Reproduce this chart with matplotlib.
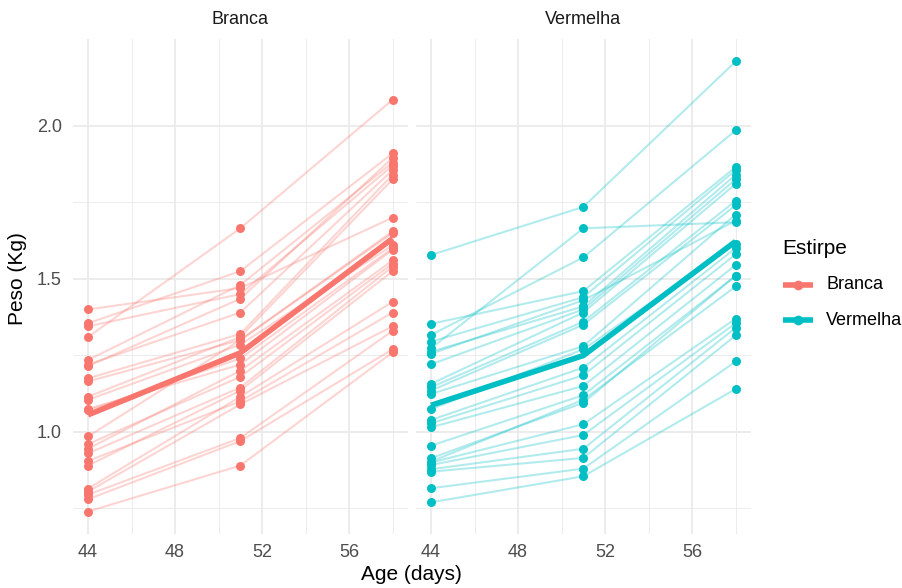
import matplotlib
matplotlib.use("Agg")
import matplotlib.pyplot as plt
from matplotlib.lines import Line2D
import numpy as np

plt.rcParams['font.family'] = ['Liberation Sans', 'DejaVu Sans']

ages = [44, 51, 58]
groups = ["Branca", "Vermelha"]
colors = {"Branca": "#F8766D", "Vermelha": "#00BFC4"}

# Branca: weights per animal at ages 44, 51, 58
branca_44 = [1.40, 1.355, 1.345, 1.31, 1.235, 1.22, 1.215, 1.175, 1.165, 1.115, 1.105, 1.075,
             1.07, 0.985, 0.96, 0.945, 0.93, 0.905, 0.89, 0.815, 0.805, 0.795, 0.78, 0.74]
branca_51 = [1.47, 1.525, 1.45, 1.665, 1.48, 1.39, 1.435, 1.32, 1.30, 1.31, 1.285, 1.22,
             1.24, 1.30, 1.18, 1.20, 1.145, 1.10, 1.135, 1.115, 1.09, 0.98, 0.97, 0.89]
branca_58 = [1.70, 1.91, 1.87, 2.085, 1.88, 1.855, 1.895, 1.84, 1.655, 1.825, 1.61, 1.595,
             1.60, 1.65, 1.55, 1.56, 1.54, 1.39, 1.525, 1.425, 1.345, 1.33, 1.27, 1.26]

# Vermelha: weights per animal at ages 44, 51, 58
vermelha_44 = [1.578, 1.353, 1.317, 1.295, 1.273, 1.262, 1.255, 1.221, 1.157, 1.146, 1.135, 1.124,
               1.074, 1.039, 1.028, 1.015, 0.955, 0.914, 0.903, 0.90, 0.892, 0.878, 0.87, 0.816, 0.77]
vermelha_51 = [1.735, 1.46, 1.57, 1.44, 1.665, 1.41, 1.43, 1.40, 1.39, 1.36, 1.35, 1.28,
               1.27, 1.21, 1.185, 1.15, 1.12, 1.095, 1.105, 1.025, 0.99, 0.945, 0.915, 0.88, 0.855]
vermelha_58 = [2.21, 1.865, 1.985, 1.855, 1.685, 1.84, 1.69, 1.825, 1.81, 1.755, 1.74, 1.71,
               1.615, 1.60, 1.58, 1.545, 1.51, 1.51, 1.475, 1.37, 1.355, 1.34, 1.315, 1.23, 1.14]

data = {
    "Branca": np.array([branca_44, branca_51, branca_58]),
    "Vermelha": np.array([vermelha_44, vermelha_51, vermelha_58]),
}

x_ticks = [44, 48, 52, 56]
x_minor = [46, 50, 54, 58]
y_ticks = [1.0, 1.5, 2.0]
y_minor = [0.75, 1.25, 1.75]

W, H = 902, 588
fig = plt.figure(figsize=(W / 100, H / 100), dpi=100)

panel_bottom = (H - 534) / H
panel_top = (H - 39) / H
panel_h = panel_top - panel_bottom
lefts = [72.8 / W, 415.8 / W]
pw = 335.0 / W

grid_major = "#EBEBEB"
text_gray = "#4D4D4D"
small = 13
big = 15

axes = []
for i, g in enumerate(groups):
    ax = fig.add_axes([lefts[i], panel_bottom, pw, panel_h])
    axes.append(ax)
    ax.set_xlim(43.3, 58.7)
    ax.set_ylim(0.6665, 2.2835)
    for v in x_ticks:
        ax.axvline(v, color=grid_major, lw=1.3, zorder=0)
    for v in x_minor:
        ax.axvline(v, color=grid_major, lw=0.65, zorder=0)
    for v in y_ticks:
        ax.axhline(v, color=grid_major, lw=1.3, zorder=0)
    for v in y_minor:
        ax.axhline(v, color=grid_major, lw=0.65, zorder=0)
    for s in ax.spines.values():
        s.set_visible(False)
    ax.set_xticks(x_ticks)
    ax.set_xticklabels([str(t) for t in x_ticks])
    ax.set_yticks(y_ticks)
    ax.set_yticklabels([f"{t:.1f}" for t in y_ticks])
    ax.tick_params(length=0, labelsize=small, colors=text_gray)
    ax.tick_params(axis='x', pad=7)
    ax.tick_params(axis='y', pad=8)
    if i == 1:
        ax.tick_params(labelleft=False)

    arr = data[g]
    c = colors[g]
    for j in range(arr.shape[1]):
        ax.plot(ages, arr[:, j], color=c, alpha=0.3, lw=1.5, zorder=2)
    for k, a in enumerate(ages):
        ax.scatter([a] * arr.shape[1], arr[k], color=c, s=42, zorder=3, linewidths=0)
    ax.plot(ages, arr.mean(axis=1), color=c, lw=4, zorder=4, solid_capstyle='butt')
    ax.text(0.5, 1.0 + 19 / (534 - 39), g, transform=ax.transAxes, ha='center', va='center',
            fontsize=small, color="#1A1A1A")

fig.text(18 / W, 1 - 279 / H, "Peso (Kg)", rotation=90, ha='center', va='center', fontsize=big)
fig.text(411 / W, 1 - 575 / H, "Age (days)", ha='center', va='center', fontsize=big)

# legend drawn manually in figure pixel coordinates
fig.text(782 / W, 1 - 248 / H, "Estirpe", ha='left', va='center', fontsize=big)
leg_y = [285, 320]
for g, yy in zip(groups, leg_y):
    yf = 1 - yy / H
    fig.add_artist(Line2D([783 / W, 813 / W], [yf, yf], transform=fig.transFigure,
                          color=colors[g], lw=4, solid_capstyle='butt'))
    fig.add_artist(Line2D([798 / W], [yf], transform=fig.transFigure, color=colors[g],
                          marker='o', markersize=7, markeredgewidth=0, lw=0))
    fig.text(826 / W, yf, g, ha='left', va='center', fontsize=small)

fig.savefig("out.png", dpi=100, facecolor="white")
